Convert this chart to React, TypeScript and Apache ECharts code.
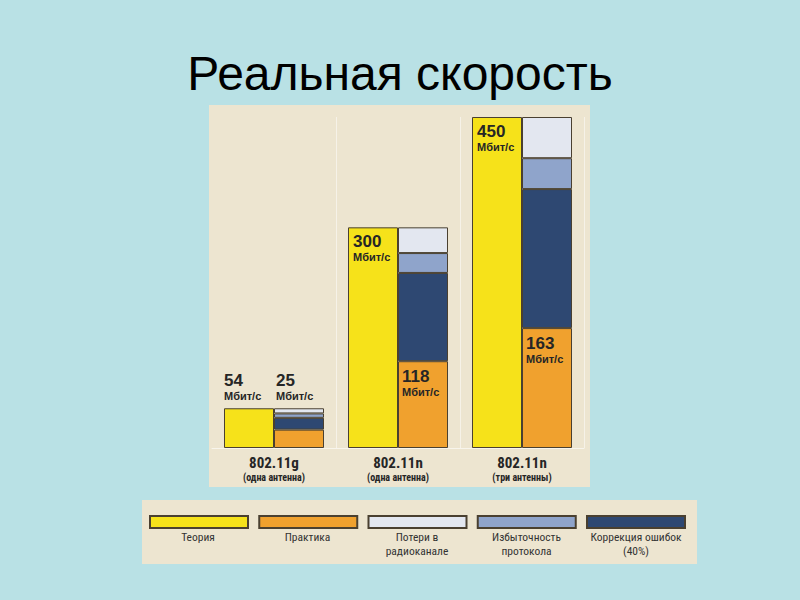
import React, { useEffect, useRef } from "react";
import * as echarts from "echarts";

const titleText = "Реальная скорость";
const categories = ["802.11g\n(одна антенна)", "802.11n\n(одна антенна)", "802.11n\n(три антенны)"];
const theory = [54, 300, 450];
const practice = [25, 118, 163];
const correction = [16, 120, 189];
const overhead = [6, 27, 42];
const loss = [7, 35, 56];
const unit = "Мбит/с";

const seriesNames = ["Теория", "Практика", "Потери в радиоканале", "Избыточность протокола", "Коррекция ошибок (40%)"];
const legendLabels = ["Теория", "Практика", "Потери в\nрадиоканале", "Избыточность\nпротокола", "Коррекция ошибок\n(40%)"];
const colors = {
  theory: "#F6E21A",
  practice: "#F0A12E",
  loss: "#E3E7F0",
  overhead: "#8FA4CB",
  correction: "#2E4872",
};

const FONT = '"Liberation Sans", Arial, sans-serif';
const NARROW = '"Liberation Sans Narrow", "Arial Narrow", "Roboto Condensed", Roboto, "Liberation Sans", sans-serif';
const BORDER = "#4a4030";
const BG = "#B9E1E5";
const PANEL = "#EDE5D0";

const valueRich = {
  n: { fontSize: 17, fontWeight: "bold", fontFamily: FONT, color: "#262626", lineHeight: 18 },
  u: { fontSize: 11, fontWeight: "bold", fontFamily: FONT, color: "#262626", lineHeight: 13 },
};

export default function App() {
  const ref = useRef<HTMLDivElement>(null);
  useEffect(() => {
    if (!ref.current) return;
    const chart = echarts.init(ref.current, undefined, { renderer: "svg" });
    const itemStyle = (color: string) => ({ color, borderColor: BORDER, borderWidth: 1 });

    chart.setOption({
      animation: false,
      backgroundColor: BG,
      title: {
        text: titleText,
        left: "center",
        top: 44,
        textStyle: { fontSize: 48, fontWeight: "normal", fontFamily: FONT, color: "#000" },
      },
      graphic: [
        { type: "rect", z: -10, shape: { x: 209, y: 105, width: 381, height: 382 }, style: { fill: PANEL } },
        { type: "rect", z: -10, shape: { x: 142, y: 500, width: 555, height: 64 }, style: { fill: PANEL } },
        ...legendLabels.map((t, i) => ({
          type: "text",
          z: 5,
          x: 149 + i * 109.5 + 49,
          y: 530,
          style: {
            text: t,
            align: "center",
            verticalAlign: "top",
            fontSize: 11.5,
            lineHeight: 14,
            fontFamily: NARROW,
            fill: "#333",
          },
        })),
      ],
      legend: {
        left: 149,
        top: 515,
        padding: 0,
        itemWidth: 98,
        itemHeight: 12,
        itemGap: 9.25,
        icon: "rect",
        selectedMode: false,
        formatter: () => "",
        data: [seriesNames[0], seriesNames[1], seriesNames[2], seriesNames[3], seriesNames[4]],
      },
      grid: { left: 212, right: 216, top: 117, bottom: 152 },
      xAxis: {
        type: "category",
        data: categories,
        axisTick: { show: false },
        axisLine: { show: true, lineStyle: { color: "rgba(255,255,255,0.6)", width: 1 } },
        splitLine: { show: true, interval: (i: number) => i === 1 || i === 2, lineStyle: { color: "rgba(255,255,255,0.5)" } },
        axisLabel: {
          interval: 0,
          hideOverlap: false,
          margin: 7,
          formatter: (v: string) => {
            const [a, b] = v.split("\n");
            return `{a|${a}}\n{b|${b}}`;
          },
          rich: {
            a: { fontSize: 15, fontWeight: "bold", fontFamily: NARROW, color: "#262626", lineHeight: 16 },
            b: { fontSize: 10, fontWeight: "bold", fontFamily: NARROW, color: "#262626", lineHeight: 12 },
          },
        },
      },
      yAxis: { type: "value", min: 0, max: 450, show: false, splitLine: { show: false } },
      series: [
        {
          name: seriesNames[0],
          type: "bar",
          barWidth: 50,
          barGap: "0%",
          itemStyle: itemStyle(colors.theory),
          label: {
            show: true,
            formatter: (p: any) => `{n|${p.value}}\n{u|${unit}}`,
            rich: valueRich,
          },
          data: theory.map((v, i) => ({ value: v, label: { position: i === 0 ? [0, -37] : [5, 5] } })),
        },
        {
          name: seriesNames[1],
          type: "bar",
          stack: "real",
          barWidth: 50,
          itemStyle: itemStyle(colors.practice),
          label: {
            show: true,
            formatter: (p: any) => `{n|${p.value}}\n{u|${unit}}`,
            rich: valueRich,
          },
          data: practice.map((v, i) => ({ value: v, label: { show: i !== 0, position: [4, 6] } })),
        },
        {
          name: seriesNames[4],
          type: "bar",
          stack: "real",
          barWidth: 50,
          itemStyle: itemStyle(colors.correction),
          data: correction,
        },
        {
          name: seriesNames[3],
          type: "bar",
          stack: "real",
          barWidth: 50,
          itemStyle: itemStyle(colors.overhead),
          data: overhead,
        },
        {
          name: seriesNames[2],
          type: "bar",
          stack: "real",
          barWidth: 50,
          itemStyle: itemStyle(colors.loss),
          label: {
            show: true,
            formatter: (p: any) => `{n|${practice[p.dataIndex]}}\n{u|${unit}}`,
            rich: valueRich,
          },
          data: loss.map((v, i) => ({ value: v, label: { show: i === 0, position: [2, -37] } })),
        },
      ],
    } as any);
    return () => chart.dispose();
  }, []);
  return <div ref={ref} style={{ position: "absolute", left: 0, top: 0, width: 800, height: 600 }} />;
}
